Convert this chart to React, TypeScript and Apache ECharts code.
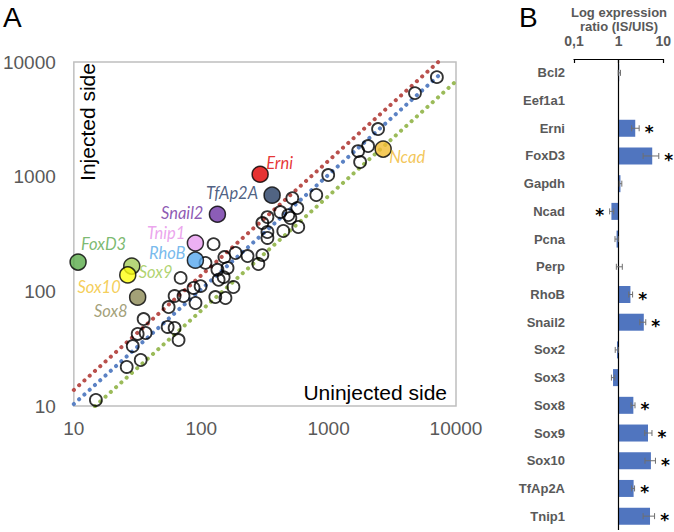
import React, { useEffect, useRef } from 'react';
import * as echarts from 'echarts';

// Panel A: unlabelled genes (uninjected side, injected side)
const openX = [14.9, 26.0, 29.0, 33.5, 31.7, 36.6, 35.3, 55.5, 54.5, 61.8, 66.4, 61.8, 72.6, 68.9, 87.1, 98.9, 90.2, 108, 125, 134, 161, 152, 150, 137, 179, 129, 155, 186, 231, 281, 302, 331, 331, 302, 331, 418, 483, 501, 568, 578, 441, 519, 800, 993, 1706, 1767, 2042, 2445, 4764, 7079];
const openY = [11.3, 21.9, 33.3, 25.2, 42.5, 43.3, 57.3, 72.9, 48.9, 47.9, 37.6, 91.0, 91.0, 131, 107, 111, 79.1, 177, 258, 154, 160, 199, 133, 126, 109, 89.1, 87.5, 216, 203, 173, 207, 292, 329, 394, 444, 491, 462, 436, 532, 364, 336, 650, 692, 1033, 1671, 1340, 1849, 2600, 5354, 7380];

// Panel A: highlighted genes
const namedGenes = ['Erni', 'TfAp2A', 'Snail2', 'Tnip1', 'RhoB', 'FoxD3', 'Sox9', 'Sox10', 'Sox8', 'Ncad'];
const namedX = [290, 360, 134, 90, 90, 10.8, 28.5, 26.5, 31.7, 2680];
const namedY = [1050, 690, 470, 264, 187, 180, 166, 139, 89, 1740];

// Panel A: reference lines (end points)
const redLine = [[10, 13.8], [7250, 10000]];
const blueLine = [[10, 10.4], [7300, 7600]];
const greenLine = [[10, 6.8], [10000, 6800]];

const axisATicks = [10, 100, 1000, 10000];

// Panel B
const genesB = ['Bcl2', 'Eef1a1', 'Erni', 'FoxD3', 'Gapdh', 'Ncad', 'Pcna', 'Perp', 'RhoB', 'Snail2', 'Sox2', 'Sox3', 'Sox8', 'Sox9', 'Sox10', 'TfAp2A', 'Tnip1'];
const ratioB = [1.03, 1.0, 2.36, 5.67, 1.1, 0.69, 0.9, 0.99, 1.84, 3.67, 0.92, 0.75, 2.14, 4.56, 5.3, 2.17, 5.06];
const errLowB = [0.98, 1.0, 1.96, 3.54, 1.04, 0.63, 0.83, 0.89, 1.69, 2.99, 0.84, 0.69, 1.9, 3.85, 3.9, 1.96, 3.54];
const errHighB = [1.1, 1.0, 2.89, 7.96, 1.18, 0.78, 0.98, 1.21, 2.06, 4.06, 0.98, 0.82, 2.33, 5.6, 6.7, 2.28, 6.4];
const significantB = [false, false, true, true, false, true, false, false, true, true, false, false, true, true, true, true, true];

// styles for highlighted genes (not data)
const geneStyle: Record<string, { text: string; fill: string; align: string; dx: number; dy: number }> = {
  Erni: { text: '#e00000', fill: '#e00000', align: 'left', dx: 6, dy: -11 },
  TfAp2A: { text: '#1f3864', fill: '#263d64', align: 'right', dx: -14, dy: -2 },
  Snail2: { text: '#7030a0', fill: '#6f35a5', align: 'right', dx: -14, dy: -1 },
  Tnip1: { text: '#e68ee8', fill: '#e89cf0', align: 'right', dx: -10, dy: -10 },
  RhoB: { text: '#55a8e8', fill: '#56a8ef', align: 'right', dx: -10, dy: -7 },
  FoxD3: { text: '#5aa84c', fill: '#5aab4a', align: 'left', dx: 3, dy: -18 },
  Sox9: { text: '#9bc84c', fill: '#a4cc5a', align: 'left', dx: 7, dy: 6 },
  Sox10: { text: '#f2c22e', fill: '#ffff10', align: 'right', dx: -7, dy: 12 },
  Sox8: { text: '#8b8858', fill: '#8c8a55', align: 'right', dx: -10, dy: 14 },
  Ncad: { text: '#f0b830', fill: '#f2bd32', align: 'left', dx: 6, dy: 8 },
};

const fmtNum = (v: number) => {
  const n = Number(Number(v).toPrecision(6));
  return String(n);
};

const dotted = (color: string) => ({ color, width: 4, type: [0.1, 7], cap: 'round' as const });

export default function App() {
  const ref = useRef<HTMLDivElement>(null);
  useEffect(() => {
    if (!ref.current) return;
    const chart = echarts.init(ref.current, undefined, { renderer: 'svg' });
    const labelFont = { fontFamily: 'Liberation Sans, Arial, sans-serif' };
    const option: any = {
      animation: false,
      backgroundColor: '#ffffff',
      grid: [
        { left: 73, top: 62, width: 383, height: 344, show: true, borderColor: '#bfbfbf', borderWidth: 1.5, backgroundColor: 'transparent' },
        { left: 574, top: 59, width: 91, height: 471 },
      ],
      xAxis: [
        {
          type: 'log', gridIndex: 0, min: axisATicks[0], max: axisATicks[axisATicks.length - 1], logBase: 10,
          axisLine: { show: false }, axisTick: { show: false }, splitLine: { show: false },
          axisLabel: { ...labelFont, fontSize: 19, color: '#595959', margin: 13, formatter: (v: number) => fmtNum(v) },
        },
        {
          type: 'log', gridIndex: 1, min: 0.1, max: 10, logBase: 10, position: 'top',
          axisLine: { show: true, lineStyle: { color: '#000', width: 1.2 } },
          axisTick: { show: true, inside: true, length: 4, lineStyle: { color: '#000', width: 1.2 } },
          splitLine: { show: false },
          axisLabel: { ...labelFont, fontSize: 14, fontWeight: 'bold', color: '#595959', margin: 11, formatter: (v: number) => fmtNum(v).replace('.', ',') },
        },
      ],
      yAxis: [
        {
          type: 'log', gridIndex: 0, min: axisATicks[0], max: axisATicks[axisATicks.length - 1], logBase: 10,
          axisLine: { show: false }, axisTick: { show: false }, splitLine: { show: false },
          axisLabel: { ...labelFont, fontSize: 19, color: '#595959', margin: 18, formatter: (v: number) => fmtNum(v) },
        },
        {
          type: 'category', gridIndex: 1, data: genesB, inverse: true,
          axisLine: { show: false }, axisTick: { show: false }, splitLine: { show: false },
          axisLabel: { ...labelFont, fontSize: 13, fontWeight: 'bold', color: '#595959', margin: 9 },
        },
      ],
      series: [
        { type: 'line', xAxisIndex: 0, yAxisIndex: 0, data: redLine, symbol: 'none', clip: true, lineStyle: dotted('#b9504c'), z: 1 },
        { type: 'line', xAxisIndex: 0, yAxisIndex: 0, data: blueLine, symbol: 'none', clip: true, lineStyle: dotted('#5b82c4'), z: 1 },
        { type: 'line', xAxisIndex: 0, yAxisIndex: 0, data: greenLine, symbol: 'none', clip: true, lineStyle: dotted('#9bbb59'), z: 1 },
        {
          type: 'scatter', xAxisIndex: 0, yAxisIndex: 0, z: 3,
          data: openX.map((x, i) => [x, openY[i]]),
          symbol: 'circle', symbolSize: 12,
          itemStyle: { color: 'rgba(255,255,255,0)', borderColor: '#000', borderWidth: 1.8 },
        },
        {
          type: 'scatter', xAxisIndex: 0, yAxisIndex: 0, z: 4,
          symbol: 'circle', symbolSize: 16,
          data: namedGenes.map((g, i) => {
            const s = geneStyle[g];
            return {
              name: g,
              value: [namedX[i], namedY[i]],
              itemStyle: { color: s.fill, borderColor: '#000', borderWidth: 1.5 },
              label: {
                show: true, formatter: g, position: 'inside', align: s.align, verticalAlign: 'middle',
                offset: [s.dx, s.dy], color: s.text, fontSize: 16.5, fontStyle: 'italic', fontFamily: 'Lato, Noto Sans, sans-serif',
              },
            };
          }),
        },
        {
          type: 'bar', xAxisIndex: 1, yAxisIndex: 1, barWidth: 17, z: 2,
          data: ratioB,
          itemStyle: { color: '#5075bf' },
          markLine: {
            silent: true, symbol: 'none', label: { show: false },
            lineStyle: { color: '#000', width: 1.2, type: 'solid' },
            data: [{ xAxis: 1 }],
          },
        },
        {
          type: 'custom', xAxisIndex: 1, yAxisIndex: 1, z: 5,
          data: genesB.map((g, i) => [i, errLowB[i], errHighB[i]]),
          encode: { x: [1, 2], y: 0 },
          renderItem: (params: any, api: any) => {
            const c = api.value(0);
            const lo = api.value(1);
            const hi = api.value(2);
            if (hi - lo < 1e-9) return null;
            const p1 = api.coord([lo, c]);
            const p2 = api.coord([hi, c]);
            const h = 3;
            const st = { stroke: '#6f6f6f', lineWidth: 1 };
            return {
              type: 'group',
              children: [
                { type: 'line', shape: { x1: p1[0], y1: p1[1], x2: p2[0], y2: p2[1] }, style: st },
                { type: 'line', shape: { x1: p1[0], y1: p1[1] - h, x2: p1[0], y2: p1[1] + h }, style: st },
                { type: 'line', shape: { x1: p2[0], y1: p2[1] - h, x2: p2[0], y2: p2[1] + h }, style: st },
              ],
            };
          },
        },
        {
          type: 'custom', xAxisIndex: 1, yAxisIndex: 1, z: 6,
          data: genesB
            .map((g, i) => (significantB[i] ? [i, ratioB[i] >= 1 ? errHighB[i] : errLowB[i], ratioB[i] >= 1 ? 1 : -1] : null))
            .filter((d) => d !== null),
          encode: { x: 1, y: 0 },
          renderItem: (params: any, api: any) => {
            const p = api.coord([api.value(1), api.value(0)]);
            const dir = api.value(2);
            return {
              type: 'text',
              x: p[0] + dir * 10,
              y: p[1] + 4,
              style: { text: '*', fill: '#000', fontSize: 17, fontWeight: 'bold', fontFamily: 'DejaVu Sans', align: 'center', verticalAlign: 'middle' },
            };
          },
        },
      ],
      graphic: [
        { type: 'text', x: 3, y: 17, style: { text: 'A', fontSize: 28, fill: '#000', fontFamily: 'Liberation Sans, Arial', verticalAlign: 'middle' } },
        { type: 'text', x: 519, y: 17, style: { text: 'B', fontSize: 28, fill: '#000', fontFamily: 'Liberation Sans, Arial', verticalAlign: 'middle' } },
        { type: 'text', x: 87, y: 122, rotation: Math.PI / 2, style: { text: 'Injected side', fontSize: 21, fill: '#000', fontFamily: 'Liberation Sans, Arial', align: 'center', verticalAlign: 'middle' } },
        { type: 'text', x: 447, y: 392, style: { text: 'Uninjected side', fontSize: 21, fill: '#000', fontFamily: 'Liberation Sans, Arial', align: 'right', verticalAlign: 'middle' } },
        { type: 'text', x: 619, y: 12, style: { text: 'Log expression', fontSize: 13, fontWeight: 'bold', fill: '#595959', fontFamily: 'Liberation Sans, Arial', align: 'center', verticalAlign: 'middle' } },
        { type: 'text', x: 619, y: 26, style: { text: 'ratio (IS/UIS)', fontSize: 13, fontWeight: 'bold', fill: '#595959', fontFamily: 'Liberation Sans, Arial', align: 'center', verticalAlign: 'middle' } },
      ],
    };
    chart.setOption(option);
    return () => chart.dispose();
  }, []);
  return <div ref={ref} style={{ position: 'absolute', left: 0, top: 0, width: 674, height: 532 }} />;
}
